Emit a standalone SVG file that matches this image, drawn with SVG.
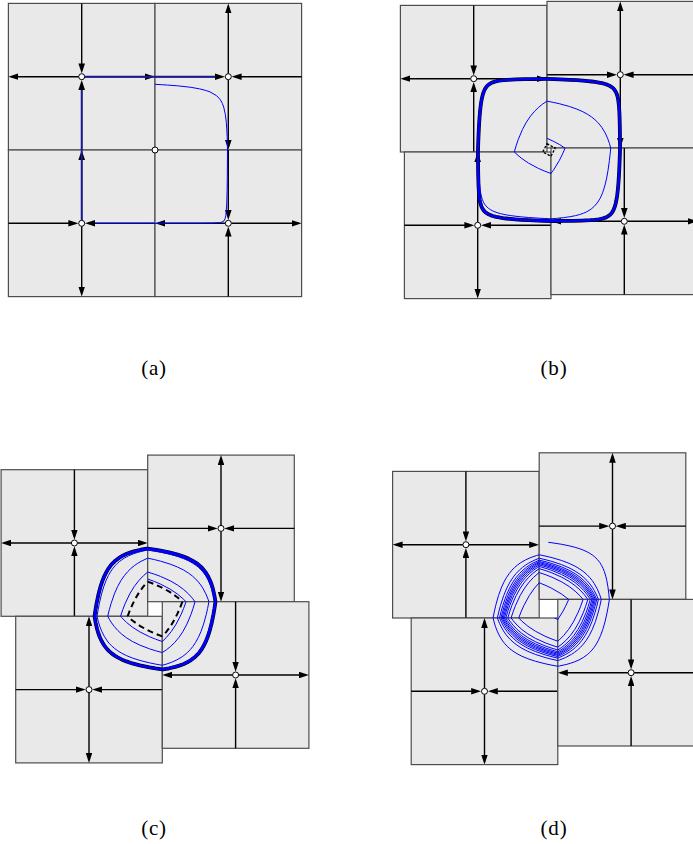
<svg xmlns="http://www.w3.org/2000/svg" width="693" height="844" viewBox="0 0 693 844">
<style>
.cell rect{fill:#e9e9e9;stroke:#4d4d4d;stroke-width:1.2}
.ax{fill:none;stroke:#000;stroke-width:1.4;marker-end:url(#ah)}
.sad{fill:#fff;stroke:#000;stroke-width:1}
.thin{fill:none;stroke:#0000ff;stroke-width:1;stroke-linejoin:round}
.cyk{fill:none;stroke:#000;stroke-width:3.8;stroke-linejoin:round}
.cyb{fill:none;stroke:#0000ff;stroke-width:2.6;stroke-linejoin:round}
.dash{fill:none;stroke:#000;stroke-width:2;stroke-dasharray:6 4}
.dsm{fill:none;stroke:#000;stroke-width:1.3;stroke-dasharray:2.5 1.5}
.navy{fill:none;stroke:#1a1a96;stroke-width:1.9}
.lbl{font-family:"Liberation Serif","Times New Roman",serif;font-size:21px;letter-spacing:0.8px;text-anchor:middle;fill:#000}
</style>
<defs>
<marker id="ah" viewBox="-7 -3.3 10 6.6" refX="0" refY="0" markerWidth="10" markerHeight="6.6" orient="auto" markerUnits="userSpaceOnUse"><path d="M3,0 L-7,-3.3 L-7,3.3 Z" fill="#000"/></marker>
<g id="cell" class="cell">
<rect x="-73.3" y="-73.3" width="146.6" height="146.6"/>
<path class="ax" d="M0,-3 V-70.3"/>
<path class="ax" d="M0,3 V70.3"/>
<path class="ax" d="M-73.3,0 H-6.3"/>
<path class="ax" d="M73.3,0 H6.3"/>
<circle class="sad" r="3"/>
</g>
<path id="hb" fill="none" vector-effect="non-scaling-stroke" d="M1,1 L0.907,1.05 L0.8264,1.1 L0.6944,1.2 L0.5917,1.3 L0.5102,1.4 L0.4444,1.5 L0.3906,1.6 L0.346,1.7 L0.3086,1.8 L0.277,1.9 L0.25,2 L0.2066,2.2 L0.1736,2.4 L0.1479,2.6 L0.1276,2.8 L0.1111,3 L0.0918,3.3 L0.0772,3.6 L0.0625,4 L0.0494,4.5 L0.04,5 L0.0331,5.5 L0.0278,6 L0.0204,7 L0.0156,8 L0.0123,9 L0.01,10 L0.0069,12 L0.0051,14 L0.0035,17 L0.0025,20 L0.0016,25 L0.0011,30 L0.0006,40"/>
<path id="dc" d="M147.7,581.6 L154.5,584.2 L160.4,586.9 L165.6,589.55 L170.1,592.2 L174.1,594.9 L177.6,597.5 L180.2,599.65 L182.4,601.7"/>
<clipPath id="clB"><rect x="547" y="1.4" width="146.6" height="146.6"/></clipPath>
<clipPath id="clC"><rect x="147.7" y="455.1" width="146.6" height="146.6"/></clipPath>
<clipPath id="clD"><rect x="539.2" y="452.8" width="146.6" height="146.6"/></clipPath>
<clipPath id="clD0"><rect x="548.3" y="452.8" width="137.5" height="146.6"/></clipPath>
</defs>
<rect width="693" height="844" fill="#fff"/>

<!-- panel a -->
<g id="a-TL"><use href="#cell" transform="translate(81.7,76.7) rotate(270)"/></g>
<g id="a-TR"><use href="#cell" transform="translate(228.3,76.7)"/></g>
<g id="a-BL"><use href="#cell" transform="translate(81.7,223.3) rotate(180)"/></g>
<g id="a-BR"><use href="#cell" transform="translate(228.3,223.3) rotate(90)"/></g>
<g id="a-center"><circle class="sad" cx="155" cy="150" r="3"/></g>

<!-- panel b -->
<g id="b-TL"><use href="#cell" transform="translate(473.7,78.7) rotate(270)"/></g>
<g id="b-TR"><use href="#cell" transform="translate(620.3,74.7)"/></g>
<g id="b-BL"><use href="#cell" transform="translate(477.7,225.3) rotate(180)"/></g>
<g id="b-BR"><use href="#cell" transform="translate(624.3,221.3) rotate(90)"/></g>

<!-- panel c -->
<g id="c-TL"><use href="#cell" transform="translate(74.4,543) rotate(270)"/></g>
<g id="c-TR"><use href="#cell" transform="translate(221,528.4)"/></g>
<g id="c-BL"><use href="#cell" transform="translate(89,689.6) rotate(180)"/></g>
<g id="c-BR"><use href="#cell" transform="translate(235.6,675) rotate(90)"/></g>

<!-- panel d -->
<g id="d-TL"><use href="#cell" transform="translate(465.9,544.7) rotate(270)"/></g>
<g id="d-TR"><use href="#cell" transform="translate(612.5,526.1)"/></g>
<g id="d-BL"><use href="#cell" transform="translate(484.5,691.3) rotate(180)"/></g>
<g id="d-BR"><use href="#cell" transform="translate(631.1,672.7) rotate(90)"/></g>

<g id="connectors">
<g id="traj-a">
<path class="navy" d="M81.7,220.3 V90 M84.7,76.7 H215"/>
<path class="thin" d="M155,84.3 L161.8,84.7 L167.7,85.1 L177.4,85.8 L190.9,87.3 L199.7,88.9 L205.7,90.4 L210,91.9 L216.6,95.7 L220.2,99.5 L222.3,103.3 L223.7,107.1 L225.4,114.7 L226.3,122.3 L226.8,129.9 L227.2,137.5 L227.5,150 L227.3,176.4 L227.1,190.7 L226.7,205 L225.9,215.2 L225.1,218.7 L223.6,221.3 L220.4,222.6 L212.5,223.1 L196.7,223.25 L95,223.3"/>
</g>

<g id="traj-b">
<g><g clip-path="url(#clB)">
<use href="#hb" class="cyk" transform="matrix(-73.3 0 0 4.245 620.3 74.7)"/>
<use href="#hb" class="thin" transform="matrix(-73.3 0 0 63.6 620.3 74.7)"/>
<use href="#hb" class="thin" transform="matrix(-73.3 0 0 26.47 620.3 74.7)"/>
<use href="#hb" class="thin" transform="matrix(-73.3 0 0 4.286 620.3 74.7)"/>
<use href="#hb" class="cyb" transform="matrix(-73.3 0 0 4.245 620.3 74.7)"/>
</g></g>
<g transform="rotate(90 549 150)"><g clip-path="url(#clB)">
<use href="#hb" class="cyk" transform="matrix(-73.3 0 0 4.245 620.3 74.7)"/>
<use href="#hb" class="thin" transform="matrix(-73.3 0 0 59.18 620.3 74.7)"/>
<use href="#hb" class="thin" transform="matrix(-73.3 0 0 13.56 620.3 74.7)"/>
<use href="#hb" class="cyb" transform="matrix(-73.3 0 0 4.245 620.3 74.7)"/>
</g></g>
<g transform="rotate(180 549 150)"><g clip-path="url(#clB)">
<use href="#hb" class="cyk" transform="matrix(-73.3 0 0 4.245 620.3 74.7)"/>
<use href="#hb" class="thin" transform="matrix(-73.3 0 0 51.78 620.3 74.7)"/>
<use href="#hb" class="thin" transform="matrix(-73.3 0 0 6.51 620.3 74.7)"/>
<use href="#hb" class="cyb" transform="matrix(-73.3 0 0 4.245 620.3 74.7)"/>
</g></g>
<g transform="rotate(270 549 150)"><g clip-path="url(#clB)">
<use href="#hb" class="cyk" transform="matrix(-73.3 0 0 4.245 620.3 74.7)"/>
<use href="#hb" class="thin" transform="matrix(-73.3 0 0 40.58 620.3 74.7)"/>
<use href="#hb" class="thin" transform="matrix(-73.3 0 0 4.578 620.3 74.7)"/>
<use href="#hb" class="cyb" transform="matrix(-73.3 0 0 4.245 620.3 74.7)"/>
</g></g>
<path class="dsm" d="M547,143.75 L555.25,148 L551,156.25 L542.75,152 Z"/>
</g>

<g id="traj-c">
<g><g clip-path="url(#clC)">
<use href="#hb" class="cyk" transform="matrix(-73.3 0 0 20.125 221 528.4)"/>
<use href="#hb" class="thin" transform="matrix(-73.3 0 0 50.6 221 528.4)"/>
<use href="#hb" class="thin" transform="matrix(-73.3 0 0 43.621 221 528.4)"/>
<use href="#hb" class="thin" transform="matrix(-73.3 0 0 29.745 221 528.4)"/>
<use href="#hb" class="thin" transform="matrix(-73.3 0 0 21.605 221 528.4)"/>
<use href="#hb" class="cyb" transform="matrix(-73.3 0 0 20.125 221 528.4)"/>
<use href="#dc" class="dash"/>
</g></g>
<g transform="rotate(90 155 609)"><g clip-path="url(#clC)">
<use href="#hb" class="cyk" transform="matrix(-73.3 0 0 20.125 221 528.4)"/>
<use href="#hb" class="thin" transform="matrix(-73.3 0 0 49.53 221 528.4)"/>
<use href="#hb" class="thin" transform="matrix(-73.3 0 0 40.559 221 528.4)"/>
<use href="#hb" class="thin" transform="matrix(-73.3 0 0 26.671 221 528.4)"/>
<use href="#hb" class="thin" transform="matrix(-73.3 0 0 20.968 221 528.4)"/>
<use href="#hb" class="cyb" transform="matrix(-73.3 0 0 20.125 221 528.4)"/>
<use href="#dc" class="dash"/>
</g></g>
<g transform="rotate(180 155 609)"><g clip-path="url(#clC)">
<use href="#hb" class="cyk" transform="matrix(-73.3 0 0 20.125 221 528.4)"/>
<use href="#hb" class="thin" transform="matrix(-73.3 0 0 48.068 221 528.4)"/>
<use href="#hb" class="thin" transform="matrix(-73.3 0 0 37.042 221 528.4)"/>
<use href="#hb" class="thin" transform="matrix(-73.3 0 0 24.305 221 528.4)"/>
<use href="#hb" class="thin" transform="matrix(-73.3 0 0 20.598 221 528.4)"/>
<use href="#hb" class="cyb" transform="matrix(-73.3 0 0 20.125 221 528.4)"/>
<use href="#dc" class="dash"/>
</g></g>
<g transform="rotate(270 155 609)"><g clip-path="url(#clC)">
<use href="#hb" class="cyk" transform="matrix(-73.3 0 0 20.125 221 528.4)"/>
<use href="#hb" class="thin" transform="matrix(-73.3 0 0 46.122 221 528.4)"/>
<use href="#hb" class="thin" transform="matrix(-73.3 0 0 33.319 221 528.4)"/>
<use href="#hb" class="thin" transform="matrix(-73.3 0 0 22.659 221 528.4)"/>
<use href="#hb" class="thin" transform="matrix(-73.3 0 0 20.388 221 528.4)"/>
<use href="#hb" class="cyb" transform="matrix(-73.3 0 0 20.125 221 528.4)"/>
<use href="#dc" class="dash"/>
</g></g>
</g>

<g id="traj-d" class="thin">
<g><g clip-path="url(#clD)">
<g clip-path="url(#clD0)"><use href="#hb" transform="matrix(-73.3 0 0 15.16 612.5 526.1)"/></g>
<use href="#hb" transform="matrix(-73.3 0 0 28.662 612.5 526.1)"/>
<use href="#hb" transform="matrix(-73.3 0 0 32.117 612.5 526.1)"/>
<use href="#hb" transform="matrix(-73.3 0 0 34.005 612.5 526.1)"/>
<use href="#hb" transform="matrix(-73.3 0 0 35.356 612.5 526.1)"/>
<use href="#hb" transform="matrix(-73.3 0 0 36.5 612.5 526.1)"/>
<use href="#hb" transform="matrix(-73.3 0 0 37.61 612.5 526.1)"/>
<use href="#hb" transform="matrix(-73.3 0 0 38.825 612.5 526.1)"/>
<use href="#hb" transform="matrix(-73.3 0 0 40.334 612.5 526.1)"/>
<use href="#hb" transform="matrix(-73.3 0 0 42.521 612.5 526.1)"/>
<use href="#hb" transform="matrix(-73.3 0 0 46.446 612.5 526.1)"/>
<use href="#hb" transform="matrix(-73.3 0 0 56.641 612.5 526.1)"/>
</g></g>
<g transform="rotate(90 548.5 608.7)"><g clip-path="url(#clD)">
<use href="#hb" transform="matrix(-73.3 0 0 21.736 612.5 526.1)"/>
<use href="#hb" transform="matrix(-73.3 0 0 29.808 612.5 526.1)"/>
<use href="#hb" transform="matrix(-73.3 0 0 32.672 612.5 526.1)"/>
<use href="#hb" transform="matrix(-73.3 0 0 34.375 612.5 526.1)"/>
<use href="#hb" transform="matrix(-73.3 0 0 35.653 612.5 526.1)"/>
<use href="#hb" transform="matrix(-73.3 0 0 36.776 612.5 526.1)"/>
<use href="#hb" transform="matrix(-73.3 0 0 37.898 612.5 526.1)"/>
<use href="#hb" transform="matrix(-73.3 0 0 39.165 612.5 526.1)"/>
<use href="#hb" transform="matrix(-73.3 0 0 40.794 612.5 526.1)"/>
<use href="#hb" transform="matrix(-73.3 0 0 43.266 612.5 526.1)"/>
<use href="#hb" transform="matrix(-73.3 0 0 48.03 612.5 526.1)"/>
<use href="#hb" transform="matrix(-73.3 0 0 62.368 612.5 526.1)"/>
</g></g>
<g transform="rotate(180 548.5 608.7)"><g clip-path="url(#clD)">
<use href="#hb" transform="matrix(-73.3 0 0 25.046 612.5 526.1)"/>
<use href="#hb" transform="matrix(-73.3 0 0 30.722 612.5 526.1)"/>
<use href="#hb" transform="matrix(-73.3 0 0 33.163 612.5 526.1)"/>
<use href="#hb" transform="matrix(-73.3 0 0 34.72 612.5 526.1)"/>
<use href="#hb" transform="matrix(-73.3 0 0 35.941 612.5 526.1)"/>
<use href="#hb" transform="matrix(-73.3 0 0 37.051 612.5 526.1)"/>
<use href="#hb" transform="matrix(-73.3 0 0 38.195 612.5 526.1)"/>
<use href="#hb" transform="matrix(-73.3 0 0 39.526 612.5 526.1)"/>
<use href="#hb" transform="matrix(-73.3 0 0 41.304 612.5 526.1)"/>
<use href="#hb" transform="matrix(-73.3 0 0 44.138 612.5 526.1)"/>
<use href="#hb" transform="matrix(-73.3 0 0 50.072 612.5 526.1)"/>
<use href="#hb" transform="matrix(-73.3 0 0 71.667 612.5 526.1)"/>
</g></g>
<g transform="rotate(270 548.5 608.7)"><g clip-path="url(#clD)">
<use href="#hb" transform="matrix(-73.3 0 0 27.158 612.5 526.1)"/>
<use href="#hb" transform="matrix(-73.3 0 0 31.477 612.5 526.1)"/>
<use href="#hb" transform="matrix(-73.3 0 0 33.604 612.5 526.1)"/>
<use href="#hb" transform="matrix(-73.3 0 0 35.046 612.5 526.1)"/>
<use href="#hb" transform="matrix(-73.3 0 0 36.223 612.5 526.1)"/>
<use href="#hb" transform="matrix(-73.3 0 0 37.329 612.5 526.1)"/>
<use href="#hb" transform="matrix(-73.3 0 0 38.503 612.5 526.1)"/>
<use href="#hb" transform="matrix(-73.3 0 0 39.914 612.5 526.1)"/>
<use href="#hb" transform="matrix(-73.3 0 0 41.874 612.5 526.1)"/>
<use href="#hb" transform="matrix(-73.3 0 0 45.178 612.5 526.1)"/>
<use href="#hb" transform="matrix(-73.3 0 0 52.805 612.5 526.1)"/>
</g></g>
</g>
</g>

<g id="labels">
<text class="lbl" x="154" y="375">(a)</text>
<text class="lbl" x="554" y="375">(b)</text>
<text class="lbl" x="154" y="835">(c)</text>
<text class="lbl" x="554" y="835">(d)</text>
</g>
</svg>
